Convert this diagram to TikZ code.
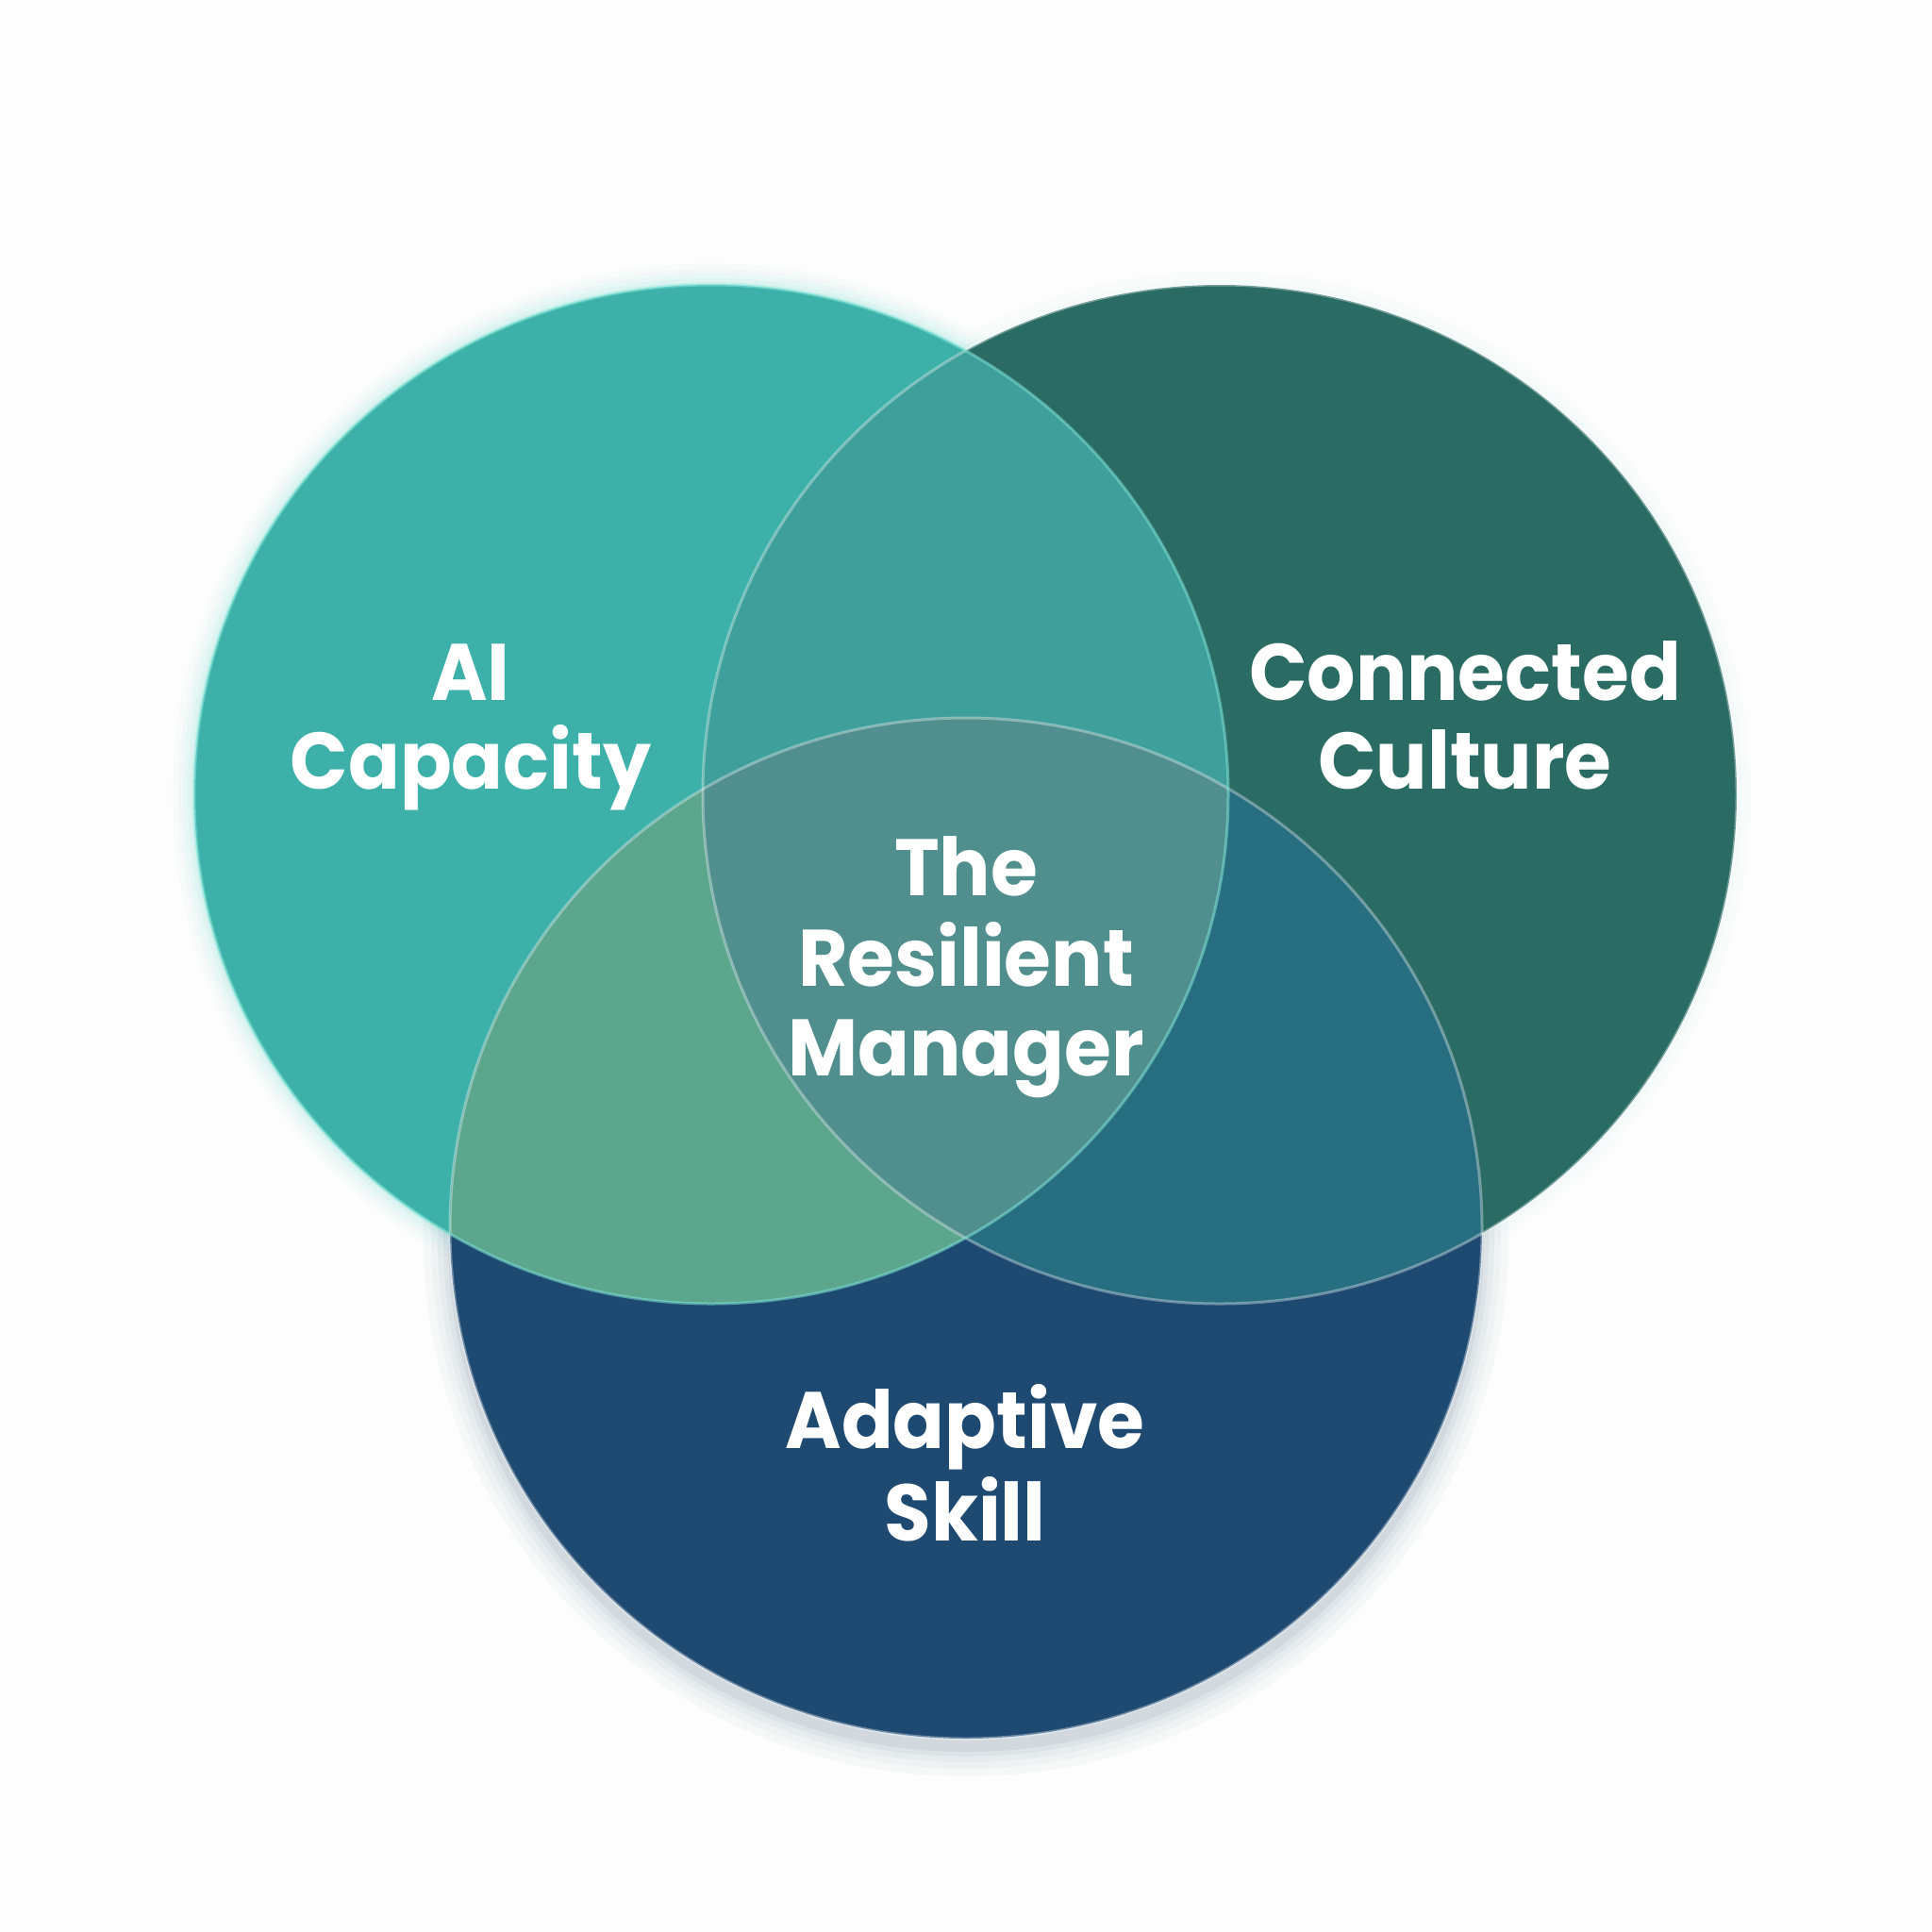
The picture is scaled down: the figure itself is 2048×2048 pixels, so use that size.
\documentclass[tikz,border=0pt]{standalone}
\usepackage{fontspec}
\newfontfamily\lblfont{Poppins}[FakeStretch=0.95]
\definecolor{cL}{HTML}{3DB1A9}
\definecolor{cR}{HTML}{2A6B64}
\definecolor{cB}{HTML}{1E4A72}
\definecolor{cLR}{HTML}{3E9F9B}
\definecolor{cLB}{HTML}{5CA68E}
\definecolor{cRB}{HTML}{276E80}
\definecolor{cC}{HTML}{508F8D}
\definecolor{bgc}{HTML}{FCFDFC}
\definecolor{glowc}{HTML}{7FE3D6}
\definecolor{shdc}{HTML}{4F6F8C}
\def\vennL{(754,842) ellipse [x radius=548pt, y radius=540pt]}
\def\vennR{(1293,842) ellipse [x radius=548pt, y radius=540pt]}
\def\vennB{(1024,1302) ellipse [x radius=547pt, y radius=541pt]}
\begin{document}
\begin{tikzpicture}[x=1pt,y=-1pt,
  lbl/.style={font=\lblfont\bfseries\fontsize{85}{95}\selectfont, text=white, anchor=base, inner sep=0pt},
  rim/.style={draw=white, draw opacity=0.35, line width=3pt}]
\fill[bgc] (0,0) rectangle (2048,2048);
\useasboundingbox (0,0) rectangle (2048,2048);
% glows and shadows
\foreach \w/\o in {46/0.04, 34/0.05, 24/0.07, 14/0.10, 6/0.16}
  \draw[glowc, line width=\w pt, opacity=\o] \vennL;
\foreach \w/\o in {30/0.03, 20/0.04, 10/0.06}
  \draw[glowc!50!white, line width=\w pt, opacity=\o] \vennR;
\foreach \d/\o in {28/0.03, 20/0.04, 13/0.05, 7/0.06, 2/0.08}
  \fill[shdc, opacity=\o] (1024,1314) ellipse [x radius=547pt+\d pt, y radius=541pt+\d pt];
% base fills
\fill[cL] \vennL;
\fill[cR] \vennR;
\fill[cB] \vennB;
% pairwise overlaps
\begin{scope}\clip \vennL; \fill[cLR] \vennR; \end{scope}
\begin{scope}\clip \vennL; \fill[cLB] \vennB; \end{scope}
\begin{scope}\clip \vennR; \fill[cRB] \vennB; \end{scope}
% centre
\begin{scope}\clip \vennL; \clip \vennR; \fill[cC] \vennB; \end{scope}
% rims
\draw[rim] \vennR;
\draw[rim] \vennB;
\draw[draw=glowc, draw opacity=0.55, line width=3pt] \vennL;
% labels
\node[lbl] (ai1) at (499,742) {AI};
\node[lbl] (ai2) at (499,836) {Capacity};
\node[lbl] (cc1) at (1553,742) {Connected};
\node[lbl] (cc2) at (1553,836) {Culture};
\node[lbl] (rm1) at (1024,949) {The};
\node[lbl] (rm2) at (1024,1045) {Resilient};
\node[lbl] (rm3) at (1024,1140) {Manager};
\node[lbl] (as1) at (1023,1535) {Adaptive};
\node[lbl] (as2) at (1023,1633) {Skill};
\end{tikzpicture}
\end{document}
